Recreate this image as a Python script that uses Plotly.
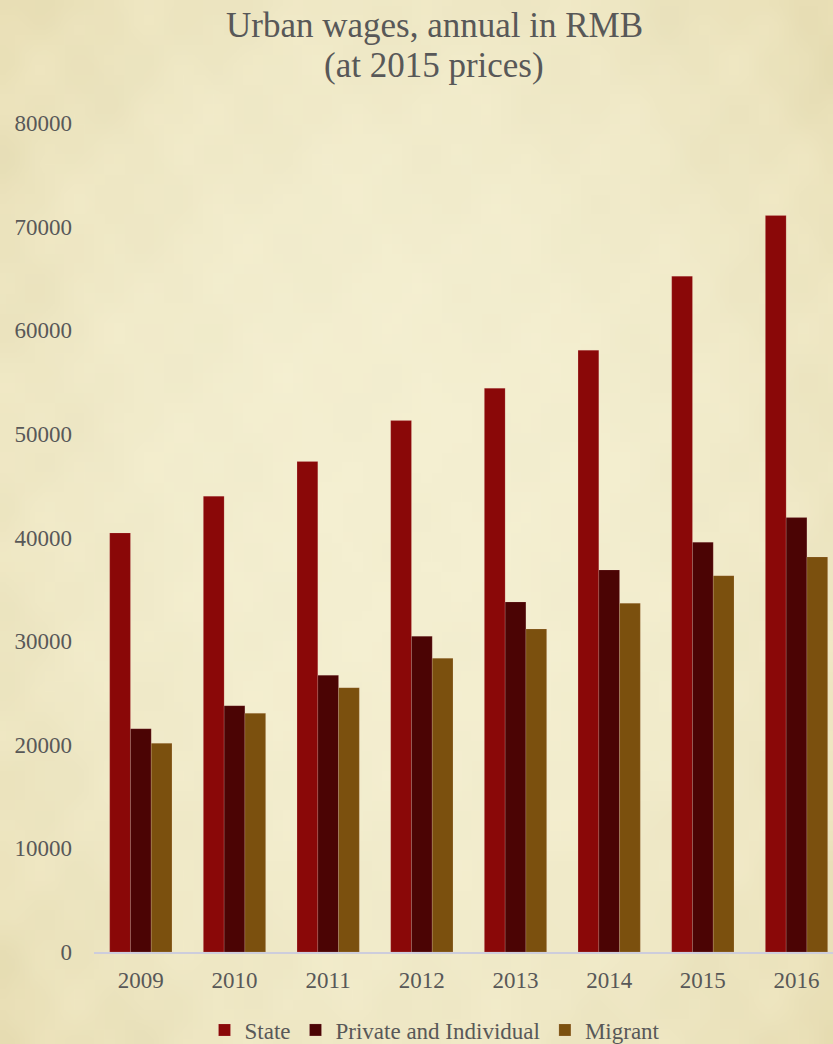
import base64
import struct
import zlib

import numpy as np
import plotly.graph_objects as go

# ---- data -------------------------------------------------------------
years = ["2009", "2010", "2011", "2012", "2013", "2014", "2015", "2016"]
state = [40440, 43990, 47330, 51280, 54410, 58080, 65220, 71070]
private_individual = [21550, 23770, 26710, 30470, 33780, 36870, 39550, 41920]
migrant = [20140, 23040, 25510, 28350, 31180, 33660, 36320, 38130]

series_names = ["State", "Private and Individual", "Migrant"]
series_colors = ["#8a0808", "#4b0404", "#7b500e"]

title_lines = ["Urban wages, annual in RMB", "(at 2015 prices)"]

# ---- page geometry ----------------------------------------------------
W, H = 833, 1044
M_L, M_R, M_T, M_B = 94, 0, 123, 92
plot_w = W - M_L - M_R
plot_h = H - M_T - M_B
plot_bottom = H - M_B


def png_data_uri(rgb):
    """Encode an (h, w, 3) uint8 array as a PNG data URI."""
    h, w, _ = rgb.shape
    raw = b"".join(b"\x00" + rgb[r].tobytes() for r in range(h))

    def chunk(tag, data):
        c = struct.pack(">I", len(data)) + tag + data
        return c + struct.pack(">I", zlib.crc32(tag + data) & 0xFFFFFFFF)

    png = b"\x89PNG\r\n\x1a\n"
    png += chunk(b"IHDR", struct.pack(">IIBBBBB", w, h, 8, 2, 0, 0, 0))
    png += chunk(b"IDAT", zlib.compress(raw, 9))
    png += chunk(b"IEND", b"")
    return "data:image/png;base64," + base64.b64encode(png).decode()


def parchment(w, h):
    """Warm paper tone, lighter in the middle and a little deeper at the edges."""
    yy, xx = np.mgrid[0:h, 0:w].astype(float)
    nx = xx / (w - 1) * 2 - 1
    ny = yy / (h - 1) * 2 - 1
    d = np.clip(np.sqrt((nx * 1.0) ** 2 + (ny * 0.9) ** 2) / 1.35, 0, 1)
    t = d ** 2.4
    # faint mottling from a few smooth waves
    mott = (np.sin(xx * 0.35 + yy * 0.12) * np.sin(yy * 0.27 - xx * 0.08)
            + 0.6 * np.sin(xx * 0.9 + 1.3) * np.sin(yy * 0.7 + 0.4))
    centre = np.array([244, 239, 209], float)
    edge = np.array([232, 222, 180], float)
    img = centre * (1 - t[..., None]) + edge * t[..., None]
    img += (mott * (0.8 + 2.5 * t))[..., None] * np.array([1.0, 1.0, 1.3])
    return np.clip(img, 0, 255).astype(np.uint8)


bg_uri = png_data_uri(parchment(84, 105))

font_family = "Liberation Serif, Times New Roman, serif"
text_grey = "#585858"

fig = go.Figure()
for name, vals, col in zip(series_names, [state, private_individual, migrant], series_colors):
    fig.add_trace(go.Bar(
        x=years, y=vals, name=name,
        marker=dict(color=col, line=dict(color="rgba(255,220,220,0.25)", width=0.6)),
    ))

# two-line heading, placed line by line
title_centres_px = [25, 65]
annotations = [
    dict(
        text=line, showarrow=False,
        xref="paper", yref="paper",
        x=(434 - M_L) / plot_w, xanchor="center",
        y=(plot_bottom - cy) / plot_h, yanchor="middle",
        font=dict(family=font_family, size=35, color=text_grey),
    )
    for line, cy in zip(title_lines, title_centres_px)
]

fig.update_layout(
    width=W, height=H,
    margin=dict(l=M_L, r=M_R, t=M_T, b=M_B, autoexpand=False),
    paper_bgcolor="#f0e9c9",
    plot_bgcolor="rgba(0,0,0,0)",
    barmode="group",
    bargap=0.335,
    bargroupgap=0,
    font=dict(family=font_family, size=23, color=text_grey),
    annotations=annotations,
    xaxis=dict(
        type="category",
        range=[-0.5, -0.5 + plot_w / 93.67],
        showgrid=False, zeroline=False,
        showline=True, linecolor="#cdcddc", linewidth=2,
        ticks="", ticklabelstandoff=6,
        tickfont=dict(size=23, color=text_grey),
    ),
    yaxis=dict(
        range=[0, 80000],
        tickvals=[0, 10000, 20000, 30000, 40000, 50000, 60000, 70000, 80000],
        tickformat="d",
        showgrid=False, zeroline=False, showline=False,
        ticks="", ticklabelstandoff=21,
        tickfont=dict(size=23, color=text_grey),
    ),
    legend=dict(
        orientation="h",
        x=(435 - M_L) / plot_w, xanchor="center",
        y=(plot_bottom - 1030) / plot_h, yanchor="middle",
        font=dict(size=23, color=text_grey),
        bgcolor="rgba(0,0,0,0)",
        traceorder="normal",
    ),
    images=[dict(
        source=bg_uri, xref="paper", yref="paper",
        x=-M_L / plot_w, y=1 + M_T / plot_h,
        sizex=W / plot_w, sizey=H / plot_h,
        xanchor="left", yanchor="top",
        sizing="stretch", layer="below",
    )],
)

fig.write_html("out.html")
